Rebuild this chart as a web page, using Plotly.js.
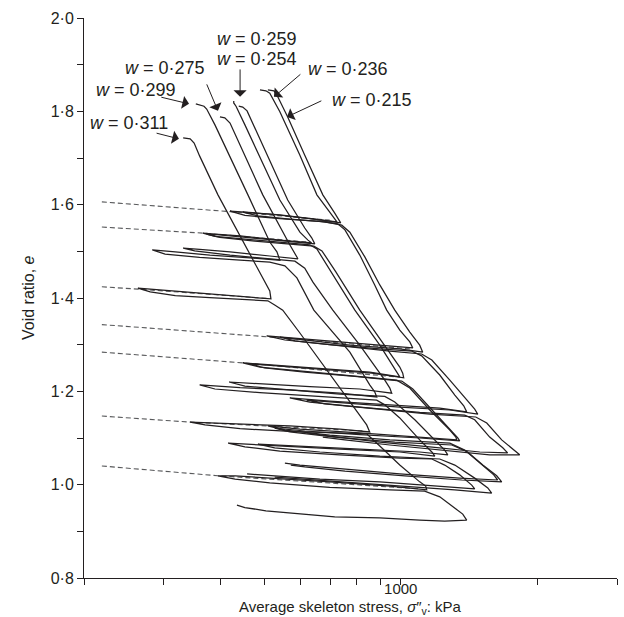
<!DOCTYPE html>
<html>
<head>
<meta charset="utf-8">
<script src="https://cdn.plot.ly/plotly-3.0.1.min.js"></script>
<style>html,body{margin:0;padding:0;background:#fff;}#chart{width:624px;height:617px;}</style>
</head>
<body>
<div id="chart"></div>
<script>
// ---- Data: average skeleton stress (kPa) and void ratio e, per specimen (water content w) ----
const s311 = [331,343,350,360,395,453,501,514,517, 442,360,294,263, 280,318,379,453,509, 527,549,599,697,812,841,854, 734,569,442,370,343, 370,442,569,734,841, 899,995,1101,1135,1141, 946,697,514,431,395, 431,514,697,946,1129, 1219,1316,1370,1398, 1250,1101,899,715,599,504,453,442,435];
const e311 = [1.743,1.741,1.732,1.704,1.621,1.514,1.434,1.415,1.398, 1.403,1.410,1.417,1.421, 1.413,1.405,1.401,1.397,1.394, 1.385,1.374,1.325,1.237,1.149,1.128,1.113, 1.119,1.126,1.130,1.133,1.134, 1.128,1.120,1.114,1.110,1.109, 1.083,1.042,1.006,0.997,0.989, 0.997,1.006,1.014,1.019,1.019, 1.012,1.004,0.994,0.989,0.986, 0.974,0.950,0.937,0.924, 0.922,0.924,0.929,0.931,0.937,0.944,0.951,0.954,0.956];

const s299 = [353,368,373,389,460,514,533,538,541, 465,379,318,283, 302,360,442,514, 555,590,643,772,854,876,885, 734,569,442,360, 389,489,630,792,885, 922,995,1101,1171,1189, 995,734,541,442,416, 453,541,734,995,1171, 1250,1349,1434,1456, 1219,899,663,514,458];
const e299 = [1.816,1.811,1.805,1.771,1.621,1.520,1.499,1.490,1.481, 1.486,1.492,1.499,1.503, 1.494,1.487,1.481,1.477, 1.469,1.443,1.374,1.284,1.214,1.199,1.188, 1.196,1.203,1.208,1.214, 1.205,1.197,1.190,1.184,1.181, 1.171,1.143,1.096,1.070,1.061, 1.070,1.076,1.083,1.088,1.089, 1.081,1.072,1.064,1.057,1.055, 1.042,1.021,0.999,0.991, 0.997,1.006,1.012,1.019,1.023];

const s275 = [399,409,420,496,569,587,593, 514,420,360,331, 351,420,501,584, 614,640,708,812,922,946,955, 812,630,489,418, 453,569,734,922, 970,1074,1189,1250,1270, 1101,812,599,484, 527,663,899,1219, 1316,1456,1556,1587, 1316,995,734,569,527];
const e275 = [1.788,1.786,1.775,1.621,1.514,1.492,1.484, 1.490,1.499,1.504,1.507, 1.501,1.492,1.485,1.479, 1.464,1.434,1.374,1.299,1.224,1.207,1.196, 1.205,1.210,1.216,1.220, 1.211,1.203,1.194,1.189, 1.177,1.139,1.096,1.074,1.064, 1.070,1.076,1.082,1.087, 1.079,1.070,1.061,1.055, 1.042,1.014,0.993,0.982, 0.989,0.997,1.006,1.014,1.016];

const s259 = [428,428,433,453,541,599,624,636, 541,442,389,366, 389,465,555,630, 653,697,792,899,970,990,995, 854,663,514,448, 489,599,772,980, 1047,1159,1283,1323,1329, 1101,812,599,509, 555,697,946,1283, 1384,1494,1604,1636, 1349,995,734,599,555];
const e259 = [1.822,1.818,1.811,1.771,1.610,1.541,1.524,1.518, 1.524,1.533,1.537,1.539, 1.532,1.525,1.519,1.514, 1.505,1.460,1.374,1.299,1.250,1.237,1.231, 1.241,1.249,1.256,1.261, 1.252,1.244,1.234,1.224, 1.207,1.160,1.117,1.102,1.096, 1.102,1.111,1.119,1.126, 1.117,1.106,1.096,1.089, 1.074,1.046,1.021,1.010, 1.014,1.023,1.034,1.042,1.046];

const s254 = [439,448,458,479,563,614,636,646, 555,453,399,373, 399,476,569,643, 670,719,812,922,995,1010,1015, 863,670,527,465, 501,614,792,1005, 1063,1177,1296,1336,1349, 1101,812,614,527, 569,715,970,1296, 1405,1517,1628,1670, 1363,1021,753,614,572];
const e254 = [1.811,1.809,1.801,1.760,1.610,1.550,1.529,1.516, 1.522,1.531,1.535,1.537, 1.530,1.522,1.516,1.511, 1.501,1.456,1.374,1.299,1.252,1.239,1.229, 1.239,1.247,1.254,1.259, 1.250,1.241,1.232,1.222, 1.205,1.158,1.115,1.100,1.094, 1.100,1.107,1.115,1.121, 1.113,1.102,1.091,1.085, 1.070,1.042,1.019,1.006, 1.010,1.019,1.029,1.038,1.042];

const s236 = [489,504,514,541,599,653,697,715,723, 630,514,453,420, 453,541,663,726, 753,812,876,931,995,1047,1063, 946,734,584,506, 555,697,899,1058, 1112,1219,1316,1377,1398, 1219,946,697,569, 630,812,1101,1384, 1456,1571,1679,1721, 1494,1159,899,697,620];
const e236 = [1.846,1.844,1.839,1.799,1.706,1.621,1.584,1.571,1.563, 1.570,1.580,1.584,1.586, 1.577,1.570,1.564,1.559, 1.546,1.492,1.428,1.374,1.331,1.306,1.293, 1.297,1.306,1.313,1.319, 1.310,1.300,1.291,1.286, 1.276,1.235,1.192,1.169,1.156, 1.164,1.171,1.179,1.186, 1.177,1.166,1.155,1.149, 1.139,1.102,1.079,1.068, 1.070,1.081,1.091,1.104,1.111];

const s215 = [509,525,533,563,614,673,715,730,737, 646,541,476,448, 484,569,680,741, 772,833,899,970,1047,1101,1118, 995,772,614,541, 584,734,946,1112, 1171,1283,1398,1456,1479, 1283,995,753,620, 680,876,1159,1464, 1548,1670,1784,1830, 1571,1219,946,753,673];
const e215 = [1.846,1.844,1.835,1.788,1.706,1.621,1.582,1.569,1.561, 1.569,1.578,1.582,1.584, 1.576,1.569,1.563,1.556, 1.541,1.488,1.428,1.374,1.327,1.299,1.284, 1.291,1.299,1.310,1.316, 1.308,1.297,1.286,1.280, 1.267,1.224,1.181,1.162,1.151, 1.160,1.166,1.175,1.181, 1.173,1.162,1.151,1.145, 1.132,1.096,1.074,1.064, 1.064,1.074,1.085,1.096,1.102];

// Dashed extrapolation lines through unload-reload loops
const dashS = [[219,420,697],[219,366,624],[219,263,509],[219,506,1047],[219,448,970],[219,343,833],[219,395,1101]];
const dashE = [[1.606,1.585,1.567],[1.552,1.539,1.520],[1.424,1.419,1.399],[1.343,1.317,1.291],[1.284,1.261,1.231],[1.147,1.134,1.115],[1.040,1.019,0.991]];

// Labels
const wLabels = ['0·311','0·299','0·275','0·259','0·254','0·236','0·215'];
const labelS = [251,260,302,481,481,764,863];
const labelE = [1.775,1.846,1.893,1.955,1.912,1.891,1.824];
// arrows: tail (stress,e) -> head (stress,e)
const arrowTailS = [287,294,372,442,605,673];
const arrowTailE = [1.754,1.831,1.861,1.893,1.882,1.824];
const arrowHeadS = [324,341,395,442,525,561];
const arrowHeadE = [1.741,1.816,1.801,1.831,1.831,1.788];

const xTickVals = [200,300,400,500,600,700,800,900,1000,2000,3000];
const xTickText = ['','','','','','','','','1000','',''];
const yTickVals = [0.8,0.9,1.0,1.1,1.2,1.3,1.4,1.5,1.6,1.7,1.8,1.9,2.0];
const yTickText = ['0·8','','1·0','','1·2','','1·4','','1·6','','1·8','','2·0'];

// ---- Build figure ----
const ink = '#231f20';
const FONT = 'Liberation Sans, Arial, Helvetica, sans-serif';
const curves = [[s311,e311],[s299,e299],[s275,e275],[s259,e259],[s254,e254],[s236,e236],[s215,e215]];
const traces = [];
dashS.forEach((s,i)=>traces.push({x:s,y:dashE[i],mode:'lines',type:'scatter',hoverinfo:'skip',
  line:{color:'#58595b',width:1.1,dash:'5px,3px'}}));
curves.forEach(c=>traces.push({x:c[0],y:c[1],mode:'lines',type:'scatter',hoverinfo:'skip',
  line:{color:ink,width:1.25}}));

const annotations = [];
wLabels.forEach((t,i)=>annotations.push({x:Math.log10(labelS[i]),y:labelE[i],xref:'x',yref:'y',
  text:'<i>w</i> = '+t,showarrow:false,xanchor:'center',yanchor:'middle',
  font:{family:FONT,size:18,color:ink}}));
arrowTailS.forEach((s,i)=>annotations.push({x:Math.log10(arrowHeadS[i]),y:arrowHeadE[i],
  ax:Math.log10(s),ay:arrowTailE[i],axref:'x',ayref:'y',xref:'x',yref:'y',text:'',
  showarrow:true,arrowhead:1,arrowsize:2.2,arrowwidth:1,arrowcolor:ink,standoff:0,startstandoff:0}));
// axis titles
annotations.push({xref:'paper',yref:'paper',x:0.5,y:0,yshift:-29,xanchor:'center',yanchor:'middle',showarrow:false,
  text:'Average skeleton stress, <i>σ</i>″<sub>v</sub>: kPa',font:{family:FONT,size:15,color:ink},borderpad:0});
annotations.push({xref:'paper',yref:'paper',x:0,y:0.5,xshift:-56,xanchor:'center',yanchor:'middle',textangle:-90,showarrow:false,
  text:'Void ratio, <i>e</i>',font:{family:FONT,size:16,color:ink}});

const layout = {
  width:624,height:617,
  margin:{l:84,r:7,t:18,b:39,pad:0},
  paper_bgcolor:'#fff',plot_bgcolor:'#fff',
  showlegend:false,
  font:{family:FONT,size:16,color:ink},
  xaxis:{type:'log',range:[Math.log10(200),Math.log10(3000)],tickmode:'array',tickvals:xTickVals,ticktext:xTickText,
    ticks:'outside',ticklen:6,tickwidth:1,tickcolor:ink,showline:true,linecolor:ink,linewidth:1,
    showgrid:false,zeroline:false,tickfont:{size:15},ticklabelstandoff:-9},
  yaxis:{range:[0.8,2.0],tickmode:'array',tickvals:yTickVals,ticktext:yTickText,
    ticks:'outside',ticklen:6,tickwidth:1,tickcolor:ink,showline:true,linecolor:ink,linewidth:1,
    showgrid:false,zeroline:false,tickfont:{size:16}},
  annotations:annotations
};
Plotly.newPlot('chart',traces,layout,{staticPlot:true,displayModeBar:false});
</script>
</body>
</html>
